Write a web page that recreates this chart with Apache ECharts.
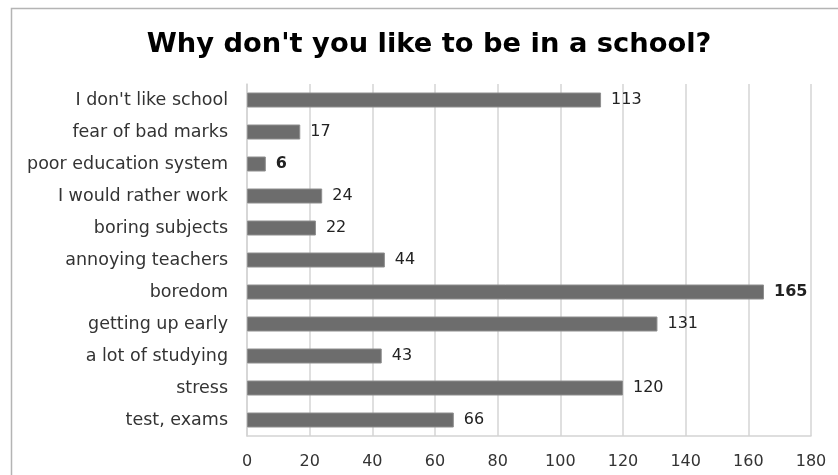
<!DOCTYPE html>
<html>
<head>
<meta charset="utf-8">
<script src="https://cdn.jsdelivr.net/npm/echarts@6/dist/echarts.min.js"></script>
<style>
  html, body { margin: 0; padding: 0; background: #fff; }
  #chart { width: 838px; height: 475px; }
</style>
</head>
<body>
<div id="chart"></div>
<script>
// Reasons for disliking school, top to bottom
const categories = [
  "I don't like school",
  "fear of bad marks",
  "poor education system",
  "I would rather work",
  "boring subjects",
  "annoying teachers",
  "boredom",
  "getting up early",
  "a lot of studying",
  "stress",
  "test, exams"
];
const counts = [113, 17, 6, 24, 22, 44, 165, 131, 43, 120, 66];
// Labels drawn in bold
const boldLabels = [6, 165];
const xTicks = { min: 0, max: 180, interval: 20 };

const FONT = '"DejaVu Sans", "Open Sans", sans-serif';

const chart = echarts.init(document.getElementById('chart'), null, { renderer: 'canvas' });

chart.setOption({
  backgroundColor: '#ffffff',
  animation: false,
  title: {
    text: "Why don't you like to be in a school?",
    left: 424,
    textAlign: 'center',
    top: 26,
    textStyle: { fontFamily: FONT, fontSize: 27.3, fontWeight: 'bold', color: '#000' }
  },
  graphic: [{
    type: 'rect',
    shape: { x: 11.5, y: 8.5, width: 900, height: 600 },
    style: { fill: 'none', stroke: '#b4b4b4', lineWidth: 1.5 },
    silent: true
  }],
  grid: { left: 247, right: 27, top: 84, bottom: 39 },
  xAxis: {
    type: 'value',
    min: xTicks.min,
    max: xTicks.max,
    interval: xTicks.interval,
    axisLine: { show: true, lineStyle: { color: '#d4d4d4', width: 1.5 } },
    axisTick: { show: false },
    splitLine: { show: true, lineStyle: { color: '#d4d4d4', width: 1.5 } },
    axisLabel: { fontFamily: FONT, fontSize: 16, color: '#333', margin: 18 }
  },
  yAxis: {
    type: 'category',
    data: categories,
    inverse: true,
    axisLine: { show: true, lineStyle: { color: '#d4d4d4', width: 1.5 } },
    axisTick: { show: false },
    splitLine: { show: false },
    axisLabel: { fontFamily: FONT, fontSize: 17.5, color: '#333', margin: 19 }
  },
  series: [{
    type: 'bar',
    data: counts.map(v => ({
      value: v,
      label: { fontWeight: boldLabels.includes(v) ? 'bold' : 'normal' }
    })),
    barWidth: 15,
    itemStyle: { color: '#6d6d6d', borderColor: '#8e8e8e', borderWidth: 1 },
    label: {
      show: true,
      position: 'right',
      distance: 10,
      fontFamily: FONT,
      fontSize: 16,
      color: '#222'
    }
  }]
});
</script>
</body>
</html>
